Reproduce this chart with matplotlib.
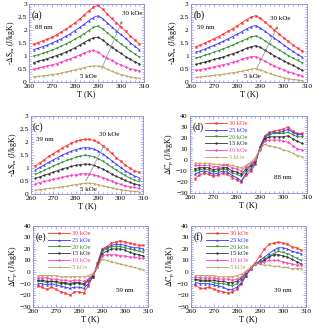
import matplotlib
matplotlib.use('Agg')
import matplotlib.pyplot as plt

plt.rcParams['font.family'] = ['Liberation Serif', 'DejaVu Serif']
plt.rcParams['mathtext.fontset'] = 'stix'

T = [262, 264, 266, 268, 270, 272, 274, 276, 278, 280, 282, 284,
     286, 288, 290, 292, 294, 296, 298, 300, 302, 304, 306, 308]
fields = ['30 kOe', '25 kOe', '20 kOe', '15 kOe', '10 kOe', '5 kOe']
colors = ['#ff3030', '#3030ff', '#2e8b2e', '#303030', '#ff40c0', '#b8a058']
markers = ['s', '^', 'v', 'o', 'D', '<']

# -dS_m, 88 nm
a30 = [1.45, 1.52, 1.58, 1.65, 1.72, 1.82, 1.92, 2.03, 2.15, 2.28, 2.42, 2.58, 2.74, 2.88, 2.95, 2.80, 2.62, 2.45, 2.28, 2.12, 1.95, 1.78, 1.62, 1.46]
a25 = [1.25, 1.30, 1.36, 1.42, 1.50, 1.58, 1.66, 1.76, 1.86, 1.98, 2.10, 2.22, 2.36, 2.48, 2.55, 2.44, 2.28, 2.12, 1.97, 1.83, 1.68, 1.52, 1.38, 1.24]
a20 = [1.00, 1.05, 1.10, 1.16, 1.22, 1.30, 1.38, 1.46, 1.55, 1.65, 1.75, 1.86, 1.98, 2.10, 2.15, 2.05, 1.90, 1.75, 1.60, 1.47, 1.34, 1.20, 1.08, 0.96]
a15 = [0.75, 0.80, 0.85, 0.90, 0.96, 1.02, 1.08, 1.15, 1.23, 1.32, 1.42, 1.52, 1.62, 1.70, 1.72, 1.62, 1.48, 1.34, 1.22, 1.10, 0.98, 0.88, 0.78, 0.70]
a10 = [0.50, 0.54, 0.58, 0.62, 0.66, 0.71, 0.77, 0.83, 0.90, 0.97, 1.04, 1.12, 1.18, 1.22, 1.15, 1.02, 0.92, 0.83, 0.74, 0.66, 0.58, 0.52, 0.47, 0.44]
a5 = [0.20, 0.22, 0.24, 0.26, 0.29, 0.32, 0.35, 0.39, 0.43, 0.47, 0.52, 0.56, 0.60, 0.62, 0.62, 0.58, 0.50, 0.42, 0.35, 0.29, 0.24, 0.20, 0.17, 0.15]

# -dS_m, 59 nm
b30 = [1.35, 1.42, 1.50, 1.58, 1.66, 1.75, 1.85, 1.95, 2.05, 2.16, 2.28, 2.40, 2.50, 2.55, 2.45, 2.30, 2.15, 2.00, 1.85, 1.70, 1.56, 1.43, 1.30, 1.20]
b25 = [1.15, 1.20, 1.27, 1.34, 1.41, 1.49, 1.57, 1.66, 1.75, 1.84, 1.94, 2.04, 2.13, 2.17, 2.08, 1.95, 1.82, 1.69, 1.56, 1.43, 1.30, 1.18, 1.06, 0.96]
b20 = [0.92, 0.97, 1.03, 1.09, 1.15, 1.21, 1.28, 1.35, 1.42, 1.50, 1.58, 1.66, 1.74, 1.77, 1.70, 1.58, 1.46, 1.35, 1.24, 1.13, 1.02, 0.92, 0.83, 0.74]
b15 = [0.68, 0.72, 0.77, 0.82, 0.87, 0.92, 0.97, 1.03, 1.09, 1.15, 1.22, 1.30, 1.36, 1.40, 1.33, 1.22, 1.11, 1.01, 0.91, 0.82, 0.73, 0.64, 0.56, 0.45]
b10 = [0.45, 0.48, 0.52, 0.55, 0.59, 0.63, 0.67, 0.71, 0.76, 0.81, 0.87, 0.94, 0.98, 0.98, 0.90, 0.80, 0.71, 0.62, 0.54, 0.47, 0.40, 0.34, 0.29, 0.25]
b5 = [0.18, 0.20, 0.22, 0.24, 0.26, 0.28, 0.30, 0.33, 0.36, 0.39, 0.42, 0.46, 0.50, 0.52, 0.47, 0.40, 0.33, 0.27, 0.22, 0.17, 0.13, 0.10, 0.08, 0.06]

# -dS_m, 39 nm
c30 = [1.08, 1.20, 1.32, 1.44, 1.55, 1.66, 1.76, 1.86, 1.95, 2.02, 2.07, 2.10, 2.10, 2.06, 1.98, 1.86, 1.72, 1.56, 1.40, 1.26, 1.12, 1.00, 0.90, 0.83]
c25 = [0.92, 1.02, 1.12, 1.22, 1.31, 1.40, 1.49, 1.57, 1.64, 1.70, 1.75, 1.78, 1.77, 1.73, 1.65, 1.54, 1.42, 1.28, 1.15, 1.02, 0.90, 0.79, 0.70, 0.63]
c20 = [0.75, 0.83, 0.91, 0.99, 1.07, 1.15, 1.22, 1.29, 1.35, 1.41, 1.45, 1.48, 1.47, 1.43, 1.36, 1.26, 1.15, 1.03, 0.92, 0.81, 0.71, 0.62, 0.54, 0.48]
c15 = [0.60, 0.66, 0.72, 0.78, 0.84, 0.90, 0.96, 1.01, 1.06, 1.10, 1.13, 1.15, 1.14, 1.10, 1.04, 0.96, 0.87, 0.77, 0.68, 0.60, 0.52, 0.45, 0.39, 0.35]
c10 = [0.40, 0.44, 0.48, 0.52, 0.56, 0.60, 0.64, 0.68, 0.71, 0.74, 0.77, 0.78, 0.77, 0.74, 0.69, 0.63, 0.56, 0.49, 0.43, 0.37, 0.32, 0.28, 0.25, 0.22]
c5 = [0.15, 0.17, 0.19, 0.21, 0.23, 0.25, 0.28, 0.30, 0.33, 0.36, 0.39, 0.41, 0.42, 0.40, 0.36, 0.32, 0.28, 0.24, 0.20, 0.17, 0.14, 0.12, 0.10, 0.09]

# dC_p, 88 nm
d30 = [-17, -14, -12, -13, -15, -14, -12, -13, -16, -18, -20, -14, -10, -4, 12, 22, 25, 26, 27, 28, 30, 26, 24, 24]
d25 = [-13, -11, -10, -11, -13, -12, -10, -11, -14, -16, -19, -12, -8, -3, 12, 21, 24, 25, 25, 26, 28, 25, 23, 23]
d20 = [-10, -9, -8, -9, -11, -10, -8, -9, -12, -13, -15, -10, -6, -2, 11, 20, 23, 24, 24, 24, 25, 23, 21, 21]
d15 = [-8, -7, -7, -7, -9, -8, -7, -7, -10, -11, -13, -8, -5, -1, 10, 19, 21, 21, 21, 21, 22, 19, 17, 15]
d10 = [-5, -5, -5, -5, -6, -6, -5, -5, -7, -8, -10, -6, -3, 0, 9, 17, 18, 18, 18, 17, 16, 13, 10, 9]
d5 = [-3, -3, -3, -3, -4, -4, -4, -4, -5, -6, -7, -5, -2, 2, 10, 14, 13, 12, 11, 9, 8, 6, 4, 3]

# dC_p, 59 nm
e30 = [-12, -13, -15, -13, -15, -17, -18, -20, -17, -17, -18, -12, -4, 8, 20, 22, 25, 26, 27, 26, 25, 24, 23, 23]
e25 = [-10, -10, -11, -10, -11, -12, -13, -14, -13, -13, -14, -10, -4, 6, 19, 21, 23, 24, 24, 23, 22, 21, 21, 20]
e20 = [-8, -8, -9, -8, -9, -10, -10, -11, -10, -10, -11, -8, -3, 5, 18, 20, 22, 22, 22, 21, 20, 19, 18, 17]
e15 = [-7, -7, -8, -8, -8, -9, -9, -10, -9, -9, -10, -7, -3, 4, 16, 18, 20, 20, 20, 19, 17, 16, 15, 14]
e10 = [-5, -5, -5, -6, -6, -7, -7, -8, -7, -7, -8, -6, -2, 4, 14, 15, 15, 15, 14, 14, 13, 13, 12, 12]
e5 = [-3, -3, -3, -3, -3, -4, -4, -4, -4, -4, -4, -3, -1, 4, 11, 10, 9, 8, 7, 6, 5, 4, 3, 2]

# dC_p, 39 nm
f30 = [-11, -14, -14, -13, -15, -16, -17, -18, -17, -15, -10, -3, 4, 8, 14, 20, 24, 25, 26, 25, 24, 22, 21, 19]
f25 = [-9, -10, -10, -10, -11, -12, -13, -15, -15, -13, -9, -3, 3, 7, 10, 13, 16, 19, 21, 21, 20, 18, 17, 16]
f20 = [-7, -8, -8, -8, -9, -10, -10, -11, -12, -10, -7, -2, 3, 7, 9, 11, 14, 16, 18, 17, 16, 14, 12, 10]
f15 = [-6, -7, -7, -7, -7, -8, -8, -9, -9, -8, -5, -1, 3, 7, 8, 10, 13, 15, 15, 14, 13, 11, 9, 7]
f10 = [-4, -5, -5, -5, -5, -6, -6, -6, -7, -6, -4, 0, 3, 7, 8, 9, 10, 10, 10, 9, 8, 7, 6, 6]
f5 = [-3, -3, -3, -3, -3, -4, -4, -4, -4, -3, -2, 1, 4, 7, 7, 6, 6, 5, 5, 4, 4, 3, 3, 3]

spine_c = '#8c8cd8'

fig = plt.figure(figsize=(3.15, 3.31), dpi=100)


def style(ax, ylim, yticks, ylabel):
    ax.set_xlim(260, 310)
    ax.set_ylim(*ylim)
    ax.set_xticks([260, 270, 280, 290, 300, 310])
    ax.set_yticks(yticks)
    ax.minorticks_on()
    for s in ax.spines.values():
        s.set_color(spine_c)
        s.set_linewidth(0.6)
    ax.tick_params(which='both', direction='in', top=True, right=True,
                   color=spine_c, labelsize=5.4, pad=1.5, width=0.5)
    ax.tick_params(which='major', length=2.2)
    ax.tick_params(which='minor', length=1.2)
    ax.set_xlabel('T (K)', fontsize=6, labelpad=1)
    ax.set_ylabel(ylabel, fontsize=5.6, labelpad=0.5)


def draw(ax, series):
    for ys, c, m, lab in zip(series, colors, markers, fields):
        ax.plot(T, ys, color=c, lw=0.6, marker=m, ms=1.3, mew=0.3, label=lab)


ds_label = r'-$\Delta\mathrm{S}_\mathrm{m}$ (J/kgK)'
cp_label = r'$\Delta\mathrm{C}_\mathrm{p}$ (J/kgK)'

# top panels: entropy change
ds_panels = [
    ([0.092, 0.752, 0.365, 0.236], [a30, a25, a20, a15, a10, a5], '(a)', '88 nm',
     (291, 0.4), (301, 2.45), (300.5, 2.62), (282, 0.2)),
    ([0.606, 0.752, 0.368, 0.236], [b30, b25, b20, b15, b10, b5], '(b)', '59 nm',
     (288, 0.45), (298, 2.25), (294, 2.45), (283, 0.2)),
    ([0.098, 0.414, 0.356, 0.236], [c30, c25, c20, c15, c10, c5], '(c)', '39 nm',
     (284, 0.41), (293.4, 2.0), (290.5, 2.3), (282, 0.19)),
]
for rect, series, tag, size, a0, a1, t30, t5 in ds_panels:
    ax = fig.add_axes(rect)
    draw(ax, series)
    style(ax, (0, 3), [0, 0.5, 1, 1.5, 2, 2.5, 3], ds_label)
    ax.set_yticklabels(['0', '0.5', '1', '1.5', '2', '2.5', '3'])
    ax.text(0.02, 0.92, tag, transform=ax.transAxes, fontsize=7, va='top')
    ax.text(0.05, 0.70, size, transform=ax.transAxes, fontsize=5, va='center')
    ax.annotate('', xy=a1, xytext=a0,
                arrowprops=dict(arrowstyle='-|>', color='#888888', lw=0.5,
                                mutation_scale=4))
    ax.text(t30[0], t30[1], '30 kOe', fontsize=5, va='center')
    ax.text(t5[0], t5[1], '5 kOe', fontsize=5, va='center')

# heat capacity panels
cp_panels = [
    ([0.603, 0.417, 0.371, 0.233], [d30, d25, d20, d15, d10, d5], '(d)', '88 nm'),
    ([0.105, 0.073, 0.365, 0.245], [e30, e25, e20, e15, e10, e5], '(e)', '59 nm'),
    ([0.606, 0.073, 0.365, 0.245], [f30, f25, f20, f15, f10, f5], '(f)', '39 nm'),
]
for rect, series, tag, size in cp_panels:
    ax = fig.add_axes(rect)
    draw(ax, series)
    style(ax, (-30, 40), [-30, -20, -10, 0, 10, 20, 30, 40], cp_label)
    ax.text(0.02, 0.92, tag, transform=ax.transAxes, fontsize=7, va='top')
    ax.text(0.72, 0.2, size, transform=ax.transAxes, fontsize=5, va='center')
    ax.legend(loc='upper left', bbox_to_anchor=(0.11, 0.97), frameon=False,
              fontsize=4.6, handlelength=3.4, labelspacing=0.2,
              handletextpad=0.3, borderaxespad=0, labelcolor='linecolor')

fig.savefig('out.png', dpi=100)
